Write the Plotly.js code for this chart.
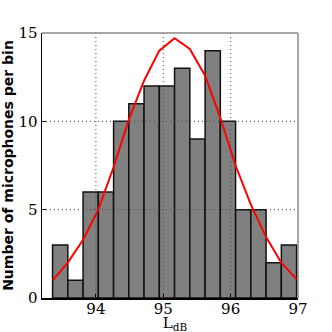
<!DOCTYPE html>
<html>
<head>
<meta charset="utf-8">
<script src="https://cdn.plot.ly/plotly-3.0.1.min.js"></script>
<style>
  html, body { margin: 0; padding: 0; background: #fff; }
  #plot { width: 332px; height: 332px; }
</style>
</head>
<body>
<div id="plot"></div>
<script>
// Histogram bins (bin centres in dB) and counts
const binCenters = [93.470, 93.697, 93.923, 94.149, 94.376, 94.602, 94.828, 95.055,
                    95.281, 95.507, 95.734, 95.960, 96.187, 96.413, 96.639, 96.866];
const binWidth = 0.2263;
const counts = [3, 1, 6, 6, 10, 11, 12, 12, 13, 9, 14, 10, 5, 5, 2, 3];

// Fitted normal curve, sampled at the bin edges
const fitX = [93.357, 93.583, 93.810, 94.036, 94.262, 94.489, 94.715, 94.941, 95.168,
              95.394, 95.620, 95.847, 96.073, 96.299, 96.526, 96.752, 96.978];
const fitY = [1.0, 2.0, 3.3, 5.0, 7.4, 10.1, 12.3, 14.0, 14.7,
              14.1, 12.6, 10.2, 7.5, 5.3, 3.45, 2.0, 1.07];

const xTicks = [94, 95, 96, 97];
const yTicks = [0, 5, 10, 15];
const xRange = [93.2, 97.0];
const yRange = [0, 15];

const traces = [
  {
    type: 'bar',
    x: binCenters,
    y: counts,
    width: binCenters.map(() => binWidth),
    marker: {
      color: '#808080',
      line: { color: '#111111', width: 1.5 }
    },
    hoverinfo: 'x+y'
  },
  {
    type: 'scatter',
    mode: 'lines',
    x: fitX,
    y: fitY,
    line: { color: '#ff0000', width: 2 },
    hoverinfo: 'skip'
  }
];

// matplotlib-style grid drawn over the bars
const gridStyle = { color: '#444444', width: 1, dash: '1px,3px' };
const shapes = [];
xTicks.filter(v => v > xRange[0] && v < xRange[1]).forEach(v => {
  shapes.push({ type: 'line', layer: 'above', xref: 'x', yref: 'paper',
                x0: v, x1: v, y0: 0, y1: 1, line: gridStyle });
});
yTicks.filter(v => v > yRange[0] && v < yRange[1]).forEach(v => {
  shapes.push({ type: 'line', layer: 'above', xref: 'paper', yref: 'y',
                x0: 0, x1: 1, y0: v, y1: v, line: gridStyle });
});
// grey top and right spines
shapes.push({ type: 'line', layer: 'above', xref: 'paper', yref: 'paper',
              x0: 0, x1: 1, y0: 1, y1: 1, line: { color: '#888888', width: 1.5 } });
shapes.push({ type: 'line', layer: 'above', xref: 'paper', yref: 'paper',
              x0: 1, x1: 1, y0: 0, y1: 1, line: { color: '#888888', width: 1.5 } });

const serif = '"DejaVu Serif", "Liberation Serif", serif';

const layout = {
  width: 332,
  height: 332,
  margin: { l: 42, r: 34, t: 33, b: 34 },
  paper_bgcolor: '#ffffff',
  plot_bgcolor: '#ffffff',
  showlegend: false,
  bargap: 0,
  xaxis: {
    range: xRange,
    tickvals: xTicks,
    ticktext: xTicks.map(String),
    showgrid: false,
    zeroline: false,
    showline: true,
    linecolor: '#000000',
    linewidth: 1.5,
    ticks: 'inside',
    ticklen: 4,
    tickcolor: '#000000',
    tickfont: { family: serif, size: 15, color: '#000' },
    title: { text: 'L<sub>dB</sub>', font: { family: serif, size: 15, color: '#000' }, standoff: 0 }
  },
  yaxis: {
    range: yRange,
    tickvals: yTicks,
    ticktext: yTicks.map(String),
    showgrid: false,
    zeroline: false,
    showline: true,
    linecolor: '#000000',
    linewidth: 1.5,
    ticks: 'inside',
    ticklen: 4,
    tickcolor: '#000000',
    tickfont: { family: serif, size: 15, color: '#000' },
    title: { text: '<b>Number of microphones per bin</b>',
             font: { family: '"DejaVu Sans", sans-serif', size: 14, color: '#000' }, standoff: 6 }
  },
  shapes: shapes
};

Plotly.newPlot('plot', traces, layout, { displayModeBar: false, staticPlot: true }).then(gd => {
  // nudge x tick labels up and the x title sideways to match the reference spacing
  gd.querySelectorAll('.xtick text').forEach(t => {
    t.setAttribute('transform', (t.getAttribute('transform') || '') + ' translate(0,-4)');
  });
  const xt = gd.querySelector('.g-xtitle text');
  if (xt) xt.setAttribute('transform', (xt.getAttribute('transform') || '') + ' translate(5,1)');
});
</script>
</body>
</html>
